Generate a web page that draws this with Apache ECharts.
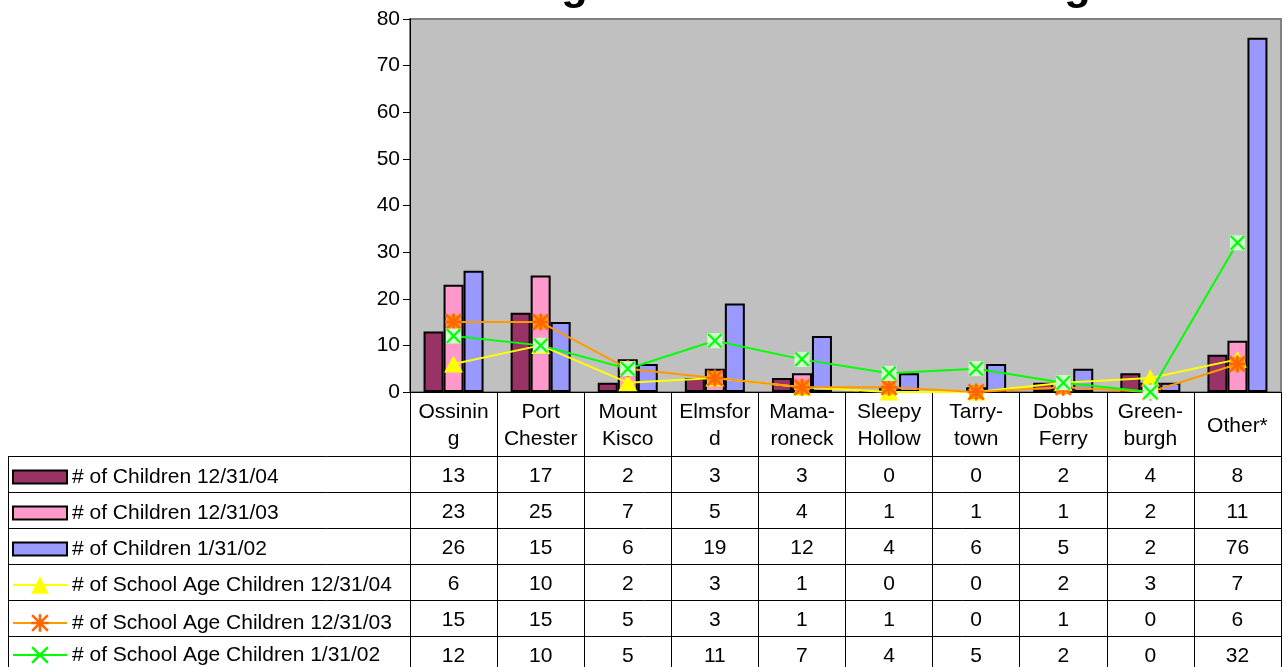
<!DOCTYPE html>
<html>
<head>
<meta charset="utf-8">
<script src="https://cdn.jsdelivr.net/npm/echarts@6/dist/echarts.min.js"></script>
<style>
html,body{margin:0;padding:0;background:#fff;}
#chart{width:1286px;height:667px;}
</style>
</head>
<body>
<div id="chart"></div>
<script>
const titleText = 'Homeless Children Residing in Westchester Housing';
const categories = ['Ossining','Port Chester','Mount Kisco','Elmsford','Mamaroneck','Sleepy Hollow','Tarrytown','Dobbs Ferry','Greenburgh','Other*'];
const tickLabels = ['Ossinin\ng','Port\nChester','Mount\nKisco','Elmsfor\nd','Mama-\nroneck','Sleepy\nHollow','Tarry-\ntown','Dobbs\nFerry','Green-\nburgh','Other*'];
const yTicks = [0,10,20,30,40,50,60,70,80];

const seriesNames = [
  '# of Children 12/31/04',
  '# of Children 12/31/03',
  '# of Children 1/31/02',
  '# of School Age Children 12/31/04',
  '# of School Age Children 12/31/03',
  '# of School Age Children 1/31/02'
];
const children04 = [13,17,2,3,3,0,0,2,4,8];
const children03 = [23,25,7,5,4,1,1,1,2,11];
const children02 = [26,15,6,19,12,4,6,5,2,76];
const school04 = [6,10,2,3,1,0,0,2,3,7];
const school03 = [15,15,5,3,1,1,0,1,0,6];
const school02 = [12,10,5,11,7,4,5,2,0,32];

const tableRows = [children04, children03, children02, school04, school03, school02];

const FONT = '"Liberation Sans", Arial, sans-serif';
const FS = 21;

const gridLeft = 410, gridRight = 1281, gridTop = 19, gridBottom = 392;
const rowTop = 456, rowH = 36;

// title sizing
const cv = document.createElement('canvas').getContext('2d');
cv.font = 'bold 100px ' + FONT;
const iG1 = titleText.indexOf('g');
const iG2 = titleText.lastIndexOf('g');
const w1 = cv.measureText(titleText.slice(0, iG1)).width;
const w2 = cv.measureText(titleText.slice(0, iG2)).width;
const titleFS = 100 * 503 / (w2 - w1);
const titleX = 561 - w1 * titleFS / 100;

const chart = echarts.init(document.getElementById('chart'), null, {renderer: 'canvas'});

const xAxes = [{
  type: 'category',
  data: categories,
  gridIndex: 0,
  position: 'bottom',
  axisLine: {show: true, lineStyle: {color: '#000', width: 1}},
  axisTick: {show: true, interval: 0, alignWithLabel: false, length: 290, lineStyle: {color: '#000', width: 1}},
  axisLabel: {
    interval: 0, margin: 34, verticalAlign: 'middle', color: '#000',
    fontFamily: FONT, fontSize: FS, lineHeight: 27,
    formatter: (v, i) => tickLabels[i]
  }
}];
tableRows.forEach((row, k) => {
  xAxes.push({
    type: 'category',
    data: categories,
    gridIndex: 0,
    position: 'bottom',
    offset: rowTop + rowH * k + rowH / 2 - gridBottom + 2,
    axisLine: {show: false},
    axisTick: {show: false},
    axisLabel: {
      interval: 0, margin: 0, verticalAlign: 'middle', color: '#000',
      fontFamily: FONT, fontSize: FS,
      formatter: (v, i) => String(row[i])
    }
  });
});

const barStyle = c => ({color: c, borderColor: '#000', borderWidth: 2});

const xPath = 'path://M0,2 L2,0 L10,8 L18,0 L20,2 L12,10 L20,18 L18,20 L10,12 L2,20 L0,18 L8,10 Z';
const starPath = 'path://M8.5,0 L11.5,0 L11.5,20 L8.5,20 Z M0,8.5 L20,8.5 L20,11.5 L0,11.5 Z M2.1,0 L20,17.9 L17.9,20 L0,2.1 Z M17.9,0 L20,2.1 L2.1,20 L0,17.9 Z';

const graphics = [];
for (let k = 0; k <= 5; k++) {
  const y = rowTop + rowH * k;
  graphics.push({type: 'line', silent: true, shape: {x1: 8, y1: y + 0.5, x2: gridRight, y2: y + 0.5}, style: {stroke: '#000', lineWidth: 1}});
}
graphics.push({type: 'line', silent: true, shape: {x1: 8.5, y1: rowTop, x2: 8.5, y2: 680}, style: {stroke: '#000', lineWidth: 1}});
graphics.push({
  type: 'text', silent: true, x: titleX, y: -0.36 * titleFS + 3,
  style: {text: titleText, font: 'bold ' + titleFS.toFixed(1) + 'px ' + FONT, fill: '#000', verticalAlign: 'middle', align: 'left'}
});

const legendText = {fontFamily: FONT, fontSize: FS, lineHeight: 24, color: '#000'};

const option = {
  animation: false,
  backgroundColor: '#fff',
  grid: {
    left: gridLeft, top: gridTop, width: gridRight - gridLeft, height: gridBottom - gridTop,
    show: true, backgroundColor: '#C0C0C0', borderColor: '#808080', borderWidth: 2
  },
  legend: [
    {
      orient: 'vertical', left: 12, top: 465, padding: 0,
      itemWidth: 54, itemHeight: 13, itemGap: 12, height: 120,
      selectedMode: false, icon: 'rect',
      data: seriesNames.slice(0, 3),
      textStyle: legendText
    },
    {
      orient: 'vertical', left: 12, top: 573, padding: 0,
      itemWidth: 54, itemHeight: 22, itemGap: 14, height: 120,
      selectedMode: false,
      data: seriesNames.slice(3, 5),
      textStyle: legendText
    },
    {
      orient: 'vertical', left: 12, top: 643, padding: 0,
      itemWidth: 54, itemHeight: 22, itemGap: 14, height: 40,
      selectedMode: false,
      data: seriesNames.slice(5, 6),
      textStyle: legendText
    }
  ],
  xAxis: xAxes,
  yAxis: {
    type: 'value', min: 0, max: 80, interval: 10,
    axisLine: {show: true, lineStyle: {color: '#000', width: 1}},
    axisTick: {show: true, inside: false, length: 7, lineStyle: {color: '#000'}},
    splitLine: {show: false},
    axisLabel: {color: '#000', fontFamily: FONT, fontSize: FS, margin: 10,
      formatter: v => yTicks.includes(v) ? String(v) : ''}
  },
  graphic: graphics,
  series: [
    {name: seriesNames[0], type: 'bar', data: children04, barWidth: 20, barGap: '0%', itemStyle: barStyle('#993366'), z: 2},
    {name: seriesNames[1], type: 'bar', data: children03, barWidth: 20, barGap: '0%', itemStyle: barStyle('#FF99CC'), z: 2},
    {name: seriesNames[2], type: 'bar', data: children02, barWidth: 20, barGap: '0%', itemStyle: barStyle('#9999FF'), z: 2},
    {name: seriesNames[3], type: 'line', data: school04, symbol: 'triangle', symbolSize: [19, 17],
      lineStyle: {color: '#FFFF00', width: 2}, itemStyle: {color: '#FFFF00'}, z: 5},
    {name: 'bg03', type: 'line', data: school03, symbol: 'rect', symbolSize: 14,
      lineStyle: {width: 0, opacity: 0}, itemStyle: {color: '#FF9900'}, z: 6, legendHoverLink: false},
    {name: seriesNames[4], type: 'line', data: school03, symbol: starPath, symbolSize: 17,
      lineStyle: {color: '#FF9900', width: 2}, itemStyle: {color: '#FF6600'}, z: 6},
    {name: 'bg02', type: 'line', data: school02, symbol: 'rect', symbolSize: 15,
      lineStyle: {width: 0, opacity: 0}, itemStyle: {color: '#CCFFCC'}, z: 7, legendHoverLink: false},
    {name: seriesNames[5], type: 'line', data: school02, symbol: xPath, symbolSize: 15,
      lineStyle: {color: '#00FF00', width: 2}, itemStyle: {color: '#00FF00'}, z: 7}
  ]
};
chart.setOption(option);
</script>
</body>
</html>
